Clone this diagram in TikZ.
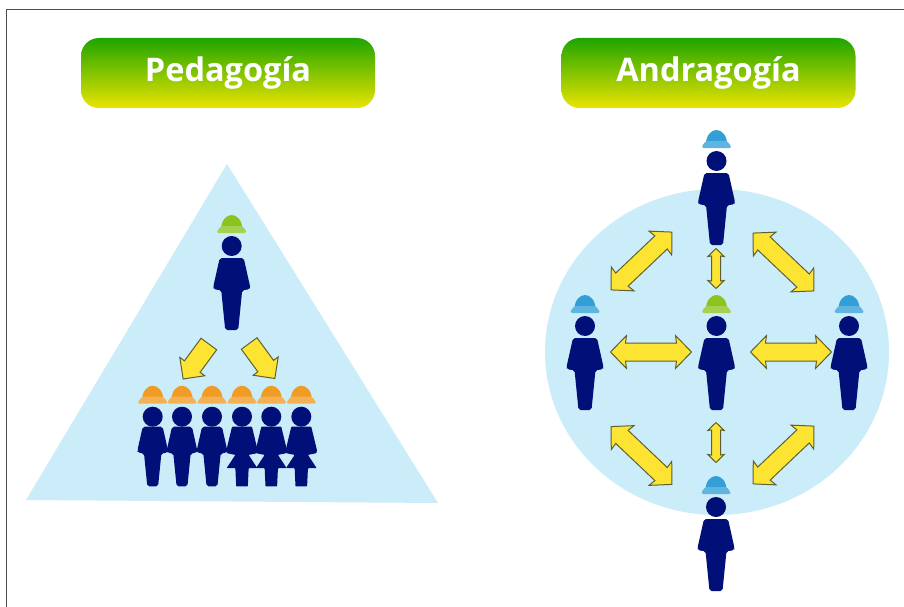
\documentclass[tikz,border=0pt]{standalone}
\usepackage{fontspec}
\setmainfont{Open Sans}
\definecolor{navy}{RGB}{0,16,120}
\definecolor{skyfill}{RGB}{203,236,249}
\definecolor{arrowfill}{RGB}{253,228,50}
\definecolor{arrowline}{RGB}{95,95,50}
\definecolor{hatgreen}{RGB}{140,195,30}
\definecolor{hatorange}{RGB}{240,155,35}
\definecolor{hatblue}{RGB}{50,160,215}
\tikzset{
  title/.style={rounded corners=18pt,top color={rgb,255:red,30;green,165;blue,0},
    bottom color={rgb,255:red,235;green,228;blue,0},draw=none,minimum width=294pt,
    minimum height=70pt,text=white,font=\bfseries\fontsize{32.5}{36}\selectfont},
  arrowbody/.style={fill=arrowfill,draw=arrowline,line width=1pt,miter limit=4},
  hat/.pic={code={%
      \fill [#1] (-10.5,-17) .. controls (-10.5,-26) and (-5,-31) .. (0,-31)
        .. controls (5,-31) and (10.5,-26) .. (10.5,-17) -- cycle;
      \fill [#1!78!white,rounded corners=1.5pt] (-14.5,-13) -- (-14.5,-15) -- (-10.5,-20) -- (10.5,-20)
        -- (14.5,-15) -- (14.5,-13) -- cycle;
      \fill [navy] (0,0) circle (10);
  }},
  person/.pic={code={%
      \pic {hat=#1};
      \fill [navy,rounded corners=2pt] (-12,12) -- (12,12) -- (18.5,41) -- (18,43.5) -- (10.5,44)
        -- (6.5,84) -- (-6.5,84) -- (-10.5,44) -- (-18,43.5) -- (-18.5,41) -- cycle;
  }},
  woman/.pic={code={%
      \pic {hat=#1};
      \fill [navy,rounded corners=.7pt] (-12,12) -- (12,12) -- (19,41) -- (18,44) -- (8,46)
        -- (18.5,62) -- (8,62) -- (7,84) -- (-7,84) -- (-8,62) -- (-18.5,62) -- (-8,46)
        -- (-18,44) -- (-19,41) -- cycle;
  }},
  dblarrow/.pic={code={%
      \draw [arrowbody] (-#1,0) -- (-#1+16,-16.5) -- (-#1+15,-9) -- (#1-15,-9) -- (#1-16,-16.5)
        -- (#1,0) -- (#1-16,16.5) -- (#1-15,9) -- (-#1+15,9) -- (-#1+16,16.5) -- cycle;
  }},
  fatarrow/.pic={code={%
      \draw [arrowbody] (-21.7,-9.7) -- (6.3,-9.7) -- (6.3,-15.5) -- (21.7,0) -- (6.3,15.5)
        -- (6.3,9.7) -- (-21.7,9.7) -- cycle;
  }},
}
\begin{document}
\begin{tikzpicture}[x=1pt,y=-1pt]
    \useasboundingbox (0,0) rectangle (904,607);
    % set coordinates
    \coordinate (T) at (227,164);
    \coordinate (L) at (26,500);
    \coordinate (R) at (438,503);
    \coordinate (O) at (717,352);
    % draw frame
    \fill [white] (0,0) rectangle (904,607);
    \draw [black!70,line width=1pt] (6,607) -- (6,9.5) -- (904,9.5);
    % draw backgrounds
    \fill [skyfill] (T) -- (R) -- (L) -- cycle;
    \fill [skyfill] (O) ellipse (172 and 163);
    % add titles
    \node [title] (pedagogia) at (228,73) {\raisebox{2pt}{Pedagogía}};
    \node [title] (andragogia) at (708.5,73) {\raisebox{2pt}{Andragogía}};
    % draw people on the left
    \pic at (231.7,246) {person=hatgreen};
    \foreach \x in {152.7,182,212} {
      \pic [scale=.83] at (\x,416.7) {person=hatorange};
    }
    \foreach \x in {242,271.3,301.3} {
      \pic [scale=.83] at (\x,416.7) {woman=hatorange};
    }
    \pic [rotate=233.7] at (196,361.5) {fatarrow};
    \pic [rotate=-53.8] at (262,361) {fatarrow};
    % draw people on the right
    \pic at (716.5,161) {person=hatblue};
    \pic at (585,326) {person=hatblue};
    \pic at (716.5,326) {person=hatgreen};
    \pic at (849,326) {person=hatblue};
    \pic at (716,507) {person=hatblue};
    % draw arrows
    \pic at (651,352) {dblarrow=40.5};
    \pic at (791,352) {dblarrow=40.5};
    \pic [rotate=-43.5] at (783.5,262) {dblarrow=42};
    \pic [rotate=43.5] at (641.5,261) {dblarrow=42};
    \pic [rotate=-43.5] at (641.5,455.5) {dblarrow=42};
    \pic [rotate=43.5] at (783.5,455) {dblarrow=42};
    \pic [rotate=90,scale=.5] at (716,268.5) {dblarrow=40};
    \pic [rotate=90,scale=.5] at (716,442.5) {dblarrow=40};
\end{tikzpicture}
\end{document}
